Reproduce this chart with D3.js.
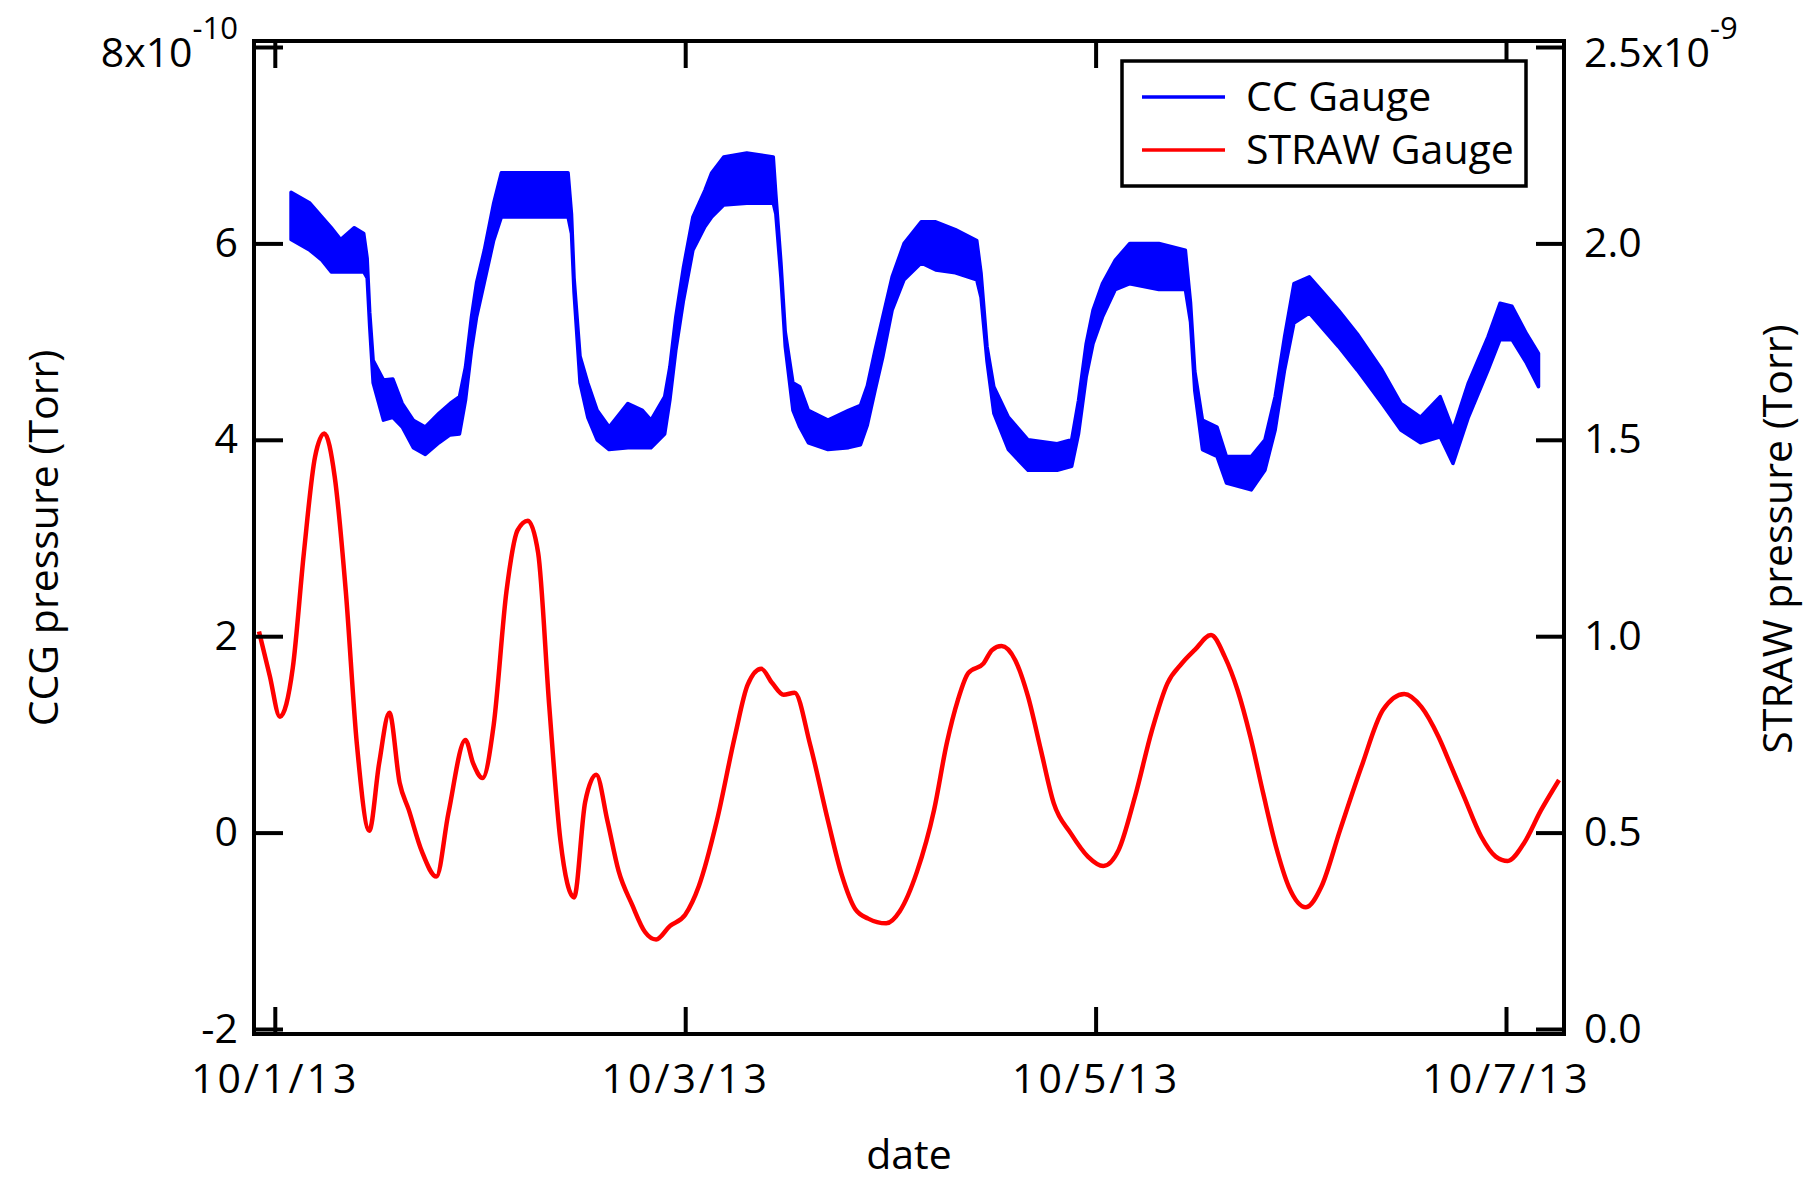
<!DOCTYPE html>
<html>
<head>
<meta charset="utf-8">
<script src="https://cdn.jsdelivr.net/npm/d3@7"></script>
<style>
  body { margin: 0; background: #fff; }
  svg text { font-family: "Open Sans", "Noto Sans", sans-serif; fill: #000; }
</style>
</head>
<body>
<div id="grafico"></div>
<script>
// CC gauge: hours after 10/1/13 00:00, band top / bottom (x1e-10 Torr)
const ccgHours = [1.9, 4.1, 5.5, 6.6, 7.7, 9.3, 10.4, 10.8, 11.1, 11.5, 12.7, 13.8, 14.9, 16.2, 17.6, 19.2, 20.5, 21.6,
  22.3, 23.0, 23.6, 24.5, 25.6, 26.5, 27.9, 30.5, 34.3, 34.7, 35.0, 35.7, 36.6, 37.7, 39.1, 41.3, 43.0, 44.0, 45.6,
  46.2, 46.9, 47.8, 48.9, 50.3, 51.1, 52.5, 55.2, 58.3, 58.6, 59.2, 59.7, 60.6, 61.4, 62.4, 64.7, 67.1, 68.5, 69.3,
  70.2, 71.1, 72.2, 73.6, 75.6, 77.3, 79.6, 82.1, 82.6, 83.3, 84.1, 85.8, 88.1, 91.5, 93.2, 94.0, 94.9, 95.7, 96.8,
  98.3, 100.0, 103.4, 106.5, 107.1, 107.6, 108.5, 110.2, 111.3, 114.2, 115.8, 117.0, 118.1, 119.2, 121.0, 122.7,
  124.4, 126.6, 129.5, 131.7, 134.0, 136.3, 137.8, 139.6, 141.9, 143.3, 144.7, 146.4, 147.8];
const ccgHigh = [6.52, 6.41, 6.27, 6.16, 6.04, 6.16, 6.10, 5.85, 5.30, 4.81, 4.61, 4.62, 4.37, 4.20, 4.13, 4.27, 4.37, 4.44,
  4.74, 5.25, 5.60, 5.93, 6.41, 6.72, 6.72, 6.72, 6.72, 6.30, 5.65, 4.85, 4.58, 4.30, 4.13, 4.37, 4.30, 4.20, 4.44,
  4.74, 5.25, 5.76, 6.27, 6.54, 6.72, 6.88, 6.92, 6.88, 6.50, 5.80, 5.10, 4.58, 4.54, 4.30, 4.20, 4.30, 4.35, 4.55,
  4.91, 5.25, 5.66, 6.00, 6.22, 6.22, 6.14, 6.03, 5.70, 4.95, 4.54, 4.23, 4.00, 3.96, 4.00, 4.40, 4.98, 5.32, 5.59,
  5.83, 6.00, 6.00, 5.93, 5.40, 4.70, 4.20, 4.13, 3.83, 3.83, 4.00, 4.44, 5.05, 5.59, 5.66, 5.49,
  5.32, 5.08, 4.71, 4.37, 4.23, 4.44, 4.10, 4.58, 5.05, 5.39, 5.36, 5.08, 4.88];
const ccgLow = [6.04, 5.93, 5.83, 5.71, 5.71, 5.71, 5.71, 5.65, 5.15, 4.58, 4.20, 4.23, 4.13, 3.92, 3.85, 3.97, 4.05, 4.06,
  4.40, 4.91, 5.25, 5.60, 6.03, 6.27, 6.27, 6.27, 6.27, 6.10, 5.50, 4.58, 4.23, 4.00, 3.90, 3.92, 3.92, 3.92, 4.06,
  4.40, 4.91, 5.42, 5.93, 6.17, 6.27, 6.39, 6.41, 6.41, 6.30, 5.65, 4.95, 4.30, 4.13, 3.97, 3.90, 3.92, 3.95, 4.15,
  4.50, 4.84, 5.32, 5.63, 5.80, 5.73, 5.70, 5.63, 5.45, 4.80, 4.27, 3.90, 3.69, 3.69, 3.73, 4.06, 4.64, 4.98, 5.25,
  5.53, 5.59, 5.53, 5.53, 5.20, 4.50, 3.90, 3.83, 3.56, 3.49, 3.69, 4.10, 4.71, 5.19, 5.29, 5.12,
  4.95, 4.71, 4.37, 4.10, 3.97, 4.03, 3.76, 4.23, 4.71, 5.02, 5.02, 4.78, 4.54];

// STRAW gauge: hours after 10/1/13 00:00, pressure (x1e-9 Torr)
const strawHours = [-1.85, -0.6, 0.6, 2.1, 3.4, 4.7, 5.8, 7.0, 8.3, 9.6, 11.05, 12.2, 13.4, 14.6, 15.65, 17.2, 18.9, 20.3,
  22.3, 23.2, 24.3, 25.6, 27.1, 28.4, 29.6, 30.8, 32.1, 33.4, 35.0, 36.3, 37.6, 38.9, 40.2, 41.8, 43.3, 44.6, 46.2,
  48.0, 49.6, 51.7, 53.8, 55.3, 56.9, 58.2, 59.5, 60.8, 62.6, 64.7, 66.3, 67.9, 69.4, 71.5, 73.1, 75.1, 77.1, 78.6,
  79.9, 81.1, 82.9, 83.9, 85.0, 86.6, 88.1, 89.6, 91.1, 93.1, 95.1, 96.9, 98.7, 100.6, 102.6, 104.4, 106.1, 107.6,
  109.5, 111.1, 112.6, 114.1, 115.6, 117.1, 118.6, 120.6, 122.4, 124.6, 127.1, 129.6, 132.1, 134.1, 136.1, 137.6,
  139.1, 141.1, 142.8, 144.2, 146.1, 148.1, 150.2];
const strawValues = [1.012, 0.90, 0.795, 0.919, 1.212, 1.456, 1.516, 1.407, 1.115, 0.725, 0.505, 0.676, 0.805, 0.627, 0.559,
  0.452, 0.388, 0.549, 0.736, 0.676, 0.639, 0.774, 1.115, 1.27, 1.294, 1.212, 0.822, 0.481, 0.335, 0.578, 0.647,
  0.53, 0.403, 0.316, 0.247, 0.228, 0.262, 0.291, 0.364, 0.53, 0.744, 0.876, 0.917, 0.88, 0.851, 0.856, 0.725,
  0.53, 0.393, 0.305, 0.281, 0.269, 0.30, 0.40, 0.557, 0.728, 0.838, 0.906, 0.931, 0.965, 0.975, 0.939, 0.846,
  0.71, 0.575, 0.498, 0.439, 0.415, 0.456, 0.591, 0.761, 0.88, 0.931, 0.965, 1.003, 0.948, 0.863, 0.744, 0.6,
  0.464, 0.362, 0.31, 0.362, 0.507, 0.668, 0.812, 0.853, 0.82, 0.744, 0.668, 0.591, 0.49, 0.439, 0.428, 0.473,
  0.557, 0.634];

const leftTicks = [8, 6, 4, 2, 0, -2];
const rightTicks = [2.5, 2.0, 1.5, 1.0, 0.5, 0.0];
const dateTicks = ["10/1/13", "10/3/13", "10/5/13", "10/7/13"];
const seriesNames = ["CC Gauge", "STRAW Gauge"];
const seriesColors = ["#0000ff", "#ff0000"];

const width = 1818, height = 1190;
const plot = { left: 254, right: 1564, top: 41, bottom: 1034 };
const fontSize = 41;

const svg = d3.select("#grafico")
    .append("svg")
    .attr("width", width)
    .attr("height", height);

const t0 = Date.UTC(2013, 9, 1);
const toDate = h => new Date(t0 + h * 3600e3);
const parseDate = d3.utcParse("%m/%d/%y");

const x = d3.scaleUtc()
    .domain([new Date(Date.UTC(2013, 8, 30, 21, 34)), new Date(Date.UTC(2013, 9, 7, 6, 47))])
    .range([plot.left, plot.right]);

const yLeft = d3.scaleLinear().domain([-2, 8]).range([1029, 47]);
const yRight = d3.scaleLinear().domain([0, 2.5]).range([1029, 47]);

// CC gauge band (noisy readings drawn as their envelope)
const idx = d3.range(ccgHours.length);
const band = d3.area()
    .x(i => x(toDate(ccgHours[i])))
    .y0(i => yLeft(ccgLow[i]))
    .y1(i => yLeft(ccgHigh[i]));

svg.append("path")
    .attr("d", band(idx))
    .attr("fill", seriesColors[0])
    .attr("stroke", seriesColors[0])
    .attr("stroke-width", 3.5)
    .attr("stroke-linejoin", "round");

// STRAW gauge line
const sIdx = d3.range(strawHours.length);
const line = d3.line()
    .x(i => x(toDate(strawHours[i])))
    .y(i => yRight(strawValues[i]))
    .curve(d3.curveMonotoneX);

svg.append("path")
    .attr("d", line(sIdx))
    .attr("fill", "none")
    .attr("stroke", seriesColors[1])
    .attr("stroke-width", 4.5);

// Frame
svg.append("rect")
    .attr("x", plot.left)
    .attr("y", plot.top)
    .attr("width", plot.right - plot.left)
    .attr("height", plot.bottom - plot.top)
    .attr("fill", "none")
    .attr("stroke", "#000")
    .attr("stroke-width", 4);

function styleAxis(g) {
    g.attr("font-size", fontSize).attr("font-family", null);
    g.select(".domain").remove();
    g.selectAll(".tick line").attr("stroke-width", 4);
}

const dates = dateTicks.map(parseDate);

// Bottom axis
svg.append("g")
    .attr("transform", `translate(0,${plot.bottom})`)
    .call(d3.axisBottom(x).tickValues(dates).tickFormat((d, i) => dateTicks[i]).tickSize(-27).tickPadding(30))
    .call(styleAxis)
    .selectAll("text")
    .attr("letter-spacing", 3);

// Top axis (ticks only)
svg.append("g")
    .attr("transform", `translate(0,${plot.top})`)
    .call(d3.axisTop(x).tickValues(dates).tickFormat("").tickSize(-27))
    .call(styleAxis);

// Left axis
const gLeft = svg.append("g")
    .attr("transform", `translate(${plot.left},0)`)
    .call(d3.axisLeft(yLeft).tickValues(leftTicks).tickFormat(d => String(d)).tickSize(-29).tickPadding(16))
    .call(styleAxis);

gLeft.selectAll(".tick text")
    .filter(d => d === 8)
    .text("8x10")
    .attr("dy", "0.48em")
    .append("tspan")
    .attr("font-size", 31)
    .attr("dy", -28)
    .text("-10");

// Right axis
const gRight = svg.append("g")
    .attr("transform", `translate(${plot.right},0)`)
    .call(d3.axisRight(yRight).tickValues(rightTicks).tickFormat(d => d.toFixed(1)).tickSize(-28).tickPadding(20))
    .call(styleAxis);

gRight.selectAll(".tick text")
    .filter(d => d === 2.5)
    .text("2.5x10")
    .attr("dy", "0.48em")
    .append("tspan")
    .attr("font-size", 31)
    .attr("dy", -28)
    .text("-9");

// Axis titles
svg.append("text")
    .attr("transform", "translate(58,538) rotate(-90)")
    .attr("text-anchor", "middle")
    .attr("font-size", fontSize)
    .text("CCG pressure (Torr)");

svg.append("text")
    .attr("transform", "translate(1792,539) rotate(-90)")
    .attr("text-anchor", "middle")
    .attr("font-size", fontSize)
    .text("STRAW pressure (Torr)");

svg.append("text")
    .attr("x", 909)
    .attr("y", 1169)
    .attr("text-anchor", "middle")
    .attr("font-size", fontSize)
    .text("date");

// Legend
const legend = svg.append("g").attr("transform", "translate(1122,61)");
legend.append("rect")
    .attr("width", 404)
    .attr("height", 125)
    .attr("fill", "#fff")
    .attr("stroke", "#000")
    .attr("stroke-width", 3.5);

seriesNames.forEach((name, i) => {
    const cy = 36 + i * 53;
    legend.append("line")
        .attr("x1", 20).attr("x2", 103)
        .attr("y1", cy).attr("y2", cy)
        .attr("stroke", seriesColors[i])
        .attr("stroke-width", 3.5);
    legend.append("text")
        .attr("x", 124)
        .attr("y", cy + 14)
        .attr("font-size", fontSize)
        .text(name);
});
</script>
</body>
</html>
